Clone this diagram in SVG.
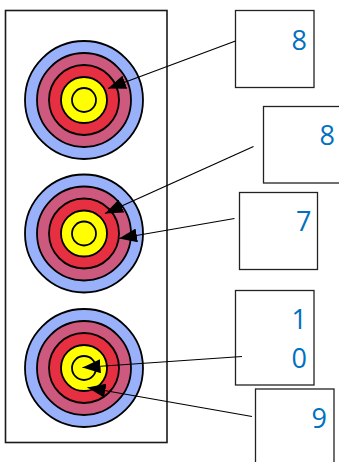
<svg xmlns="http://www.w3.org/2000/svg" width="339" height="462" viewBox="0 0 339 462">
<style>
.frame{fill:#fff;stroke:#1a1a1a;stroke-width:1.6}
.box{fill:#fff;stroke:#222;stroke-width:1.3}
.ring{stroke:#000;stroke-width:1.8}
.b{fill:#99B1FA}.p{fill:#CD5A7E}.r{fill:#E72F42}.y{fill:#FFFF00}
.num{font-family:"Open Sans","Noto Sans",sans-serif;font-size:27px;fill:#0070C0}
.conn{stroke:#000;stroke-width:1.2;fill:none;marker-end:url(#ah)}
</style>
<defs>
<marker id="ah" markerUnits="userSpaceOnUse" markerWidth="20" markerHeight="14" refX="18" refY="7" orient="auto">
<path d="M0,0 L18,7 L0,14 z" fill="#000"/>
</marker>
<g id="target">
<circle class="ring b" r="59"/>
<circle class="ring p" r="47"/>
<circle class="ring r" r="35"/>
<circle class="ring y" r="23"/>
<circle class="ring y" r="12"/>
</g>
</defs>
<rect class="frame" x="5.5" y="10.5" width="161.5" height="432"/>
<g id="target1"><use href="#target" x="84" y="100"/></g>
<g id="target2"><use href="#target" x="84" y="233.5"/></g>
<g id="target3"><use href="#target" x="84" y="368"/></g>
<g id="box1"><rect class="box" x="235.5" y="10.5" width="78.5" height="77"/><text class="num" x="291.5" y="49.5">8</text></g>
<g id="box2"><rect class="box" x="263.5" y="106.5" width="80" height="76.5"/><text class="num" x="319.5" y="145">8</text></g>
<g id="box3"><rect class="box" x="239.5" y="192.5" width="78" height="77"/><text class="num" x="296" y="231">7</text></g>
<g id="box4"><rect class="box" x="235.5" y="290.5" width="78.5" height="94.5"/><text class="num" x="291.5" y="328.5">1</text><text class="num" x="291.5" y="368">0</text></g>
<g id="box5"><rect class="box" x="255.5" y="389" width="78.5" height="80"/><text class="num" x="311.5" y="427.5">9</text></g>
<g id="connectors">
<line class="conn" x1="235.5" y1="41" x2="108" y2="88.5"/>
<line class="conn" x1="253.5" y1="146.5" x2="105" y2="213.5"/>
<line class="conn" x1="234.5" y1="218.5" x2="119" y2="238.5"/>
<line class="conn" x1="242" y1="356.5" x2="82.5" y2="367.5"/>
<line class="conn" x1="252" y1="416.5" x2="87.5" y2="387.5"/>
</g>
</svg>
